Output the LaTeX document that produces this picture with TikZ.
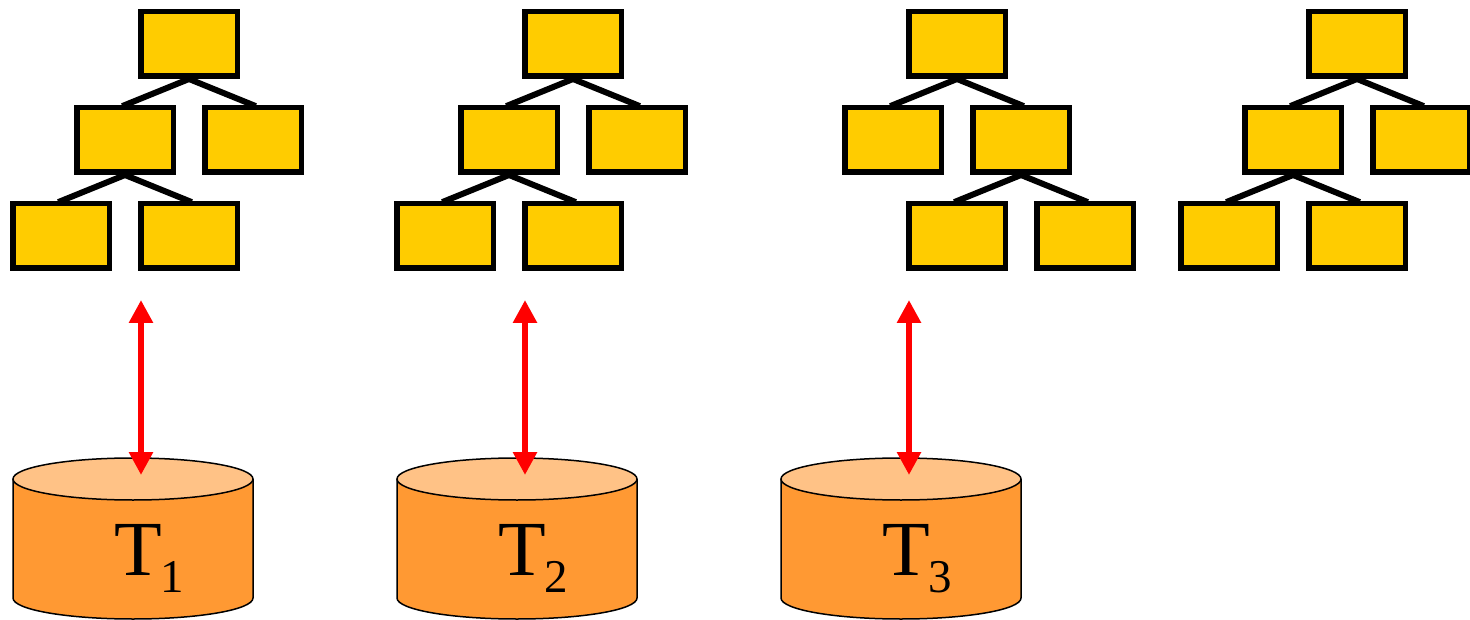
\documentclass[tikz,border=0pt]{standalone}
\usepackage{fontspec}
\setmainfont{Liberation Serif}
\usetikzlibrary{arrows.meta}
\definecolor{boxyellow}{HTML}{FFCC00}
\definecolor{cylbody}{HTML}{FF9933}
\definecolor{cyltop}{HTML}{FFC286}
\pgfdeclarelayer{background}
\pgfsetlayers{background,main}
\newcommand{\dbcyl}[1]{%
  \fill[cylbody] (#1-120,479) -- (#1-120,598) arc[start angle=180,end angle=360,x radius=120pt,y radius=21pt] -- (#1+120,479) -- cycle;
  \draw[cylline] (#1-120,479) -- (#1-120,598) arc[start angle=180,end angle=360,x radius=120pt,y radius=21pt] -- (#1+120,479);
  \draw[cylline, fill=cyltop] (#1,479) ellipse [x radius=120pt, y radius=21pt];
}
\newcommand{\tlabel}[3]{%
  \node[anchor=base west, inner sep=0pt] (#1) at (#2,575) {\fontsize{78}{78}\selectfont T\kern-1pt\raisebox{-17pt}{\fontsize{47}{47}\selectfont #3}};
}
\begin{document}
\begin{tikzpicture}[x=1pt,y=-1pt,
  tbox/.style={draw=black, line width=5.5pt, fill=boxyellow, minimum width=96.5pt, minimum height=64.5pt, inner sep=0pt},
  tedge/.style={line width=6pt, shorten <=-3pt, shorten >=-3pt},
  link/.style={red, line width=6pt, {Triangle[length=23pt,width=23pt]}-{Triangle[length=23pt,width=23pt]}},
  cylline/.style={line width=1.5pt, black}]
\useasboundingbox (0,0) rectangle (1470,620);

% ---- tree 1
\node[tbox] (ar)  at (189,44) {};
\node[tbox] (aml) at (125,140) {};
\node[tbox] (amr) at (253,140) {};
\node[tbox] (abl) at (61,236) {};
\node[tbox] (abr) at (189,236) {};
% ---- tree 2
\node[tbox] (br)  at (573,44) {};
\node[tbox] (bml) at (509,140) {};
\node[tbox] (bmr) at (637,140) {};
\node[tbox] (bbl) at (445,236) {};
\node[tbox] (bbr) at (573,236) {};
% ---- tree 3
\node[tbox] (cr)  at (957,44) {};
\node[tbox] (cml) at (893,140) {};
\node[tbox] (cmr) at (1021,140) {};
\node[tbox] (cbl) at (957,236) {};
\node[tbox] (cbr) at (1085,236) {};
% ---- tree 4
\node[tbox] (dr)  at (1357,44) {};
\node[tbox] (dml) at (1293,140) {};
\node[tbox] (dmr) at (1421,140) {};
\node[tbox] (dbl) at (1229,236) {};
\node[tbox] (dbr) at (1357,236) {};

\begin{pgfonlayer}{background}
\draw[tedge] (ar.south) -- (aml.north);
\draw[tedge] (ar.south) -- (amr.north);
\draw[tedge] (aml.south) -- (abl.north);
\draw[tedge] (aml.south) -- (abr.north);
\draw[tedge] (br.south) -- (bml.north);
\draw[tedge] (br.south) -- (bmr.north);
\draw[tedge] (bml.south) -- (bbl.north);
\draw[tedge] (bml.south) -- (bbr.north);
\draw[tedge] (cr.south) -- (cml.north);
\draw[tedge] (cr.south) -- (cmr.north);
\draw[tedge] (cmr.south) -- (cbl.north);
\draw[tedge] (cmr.south) -- (cbr.north);
\draw[tedge] (dr.south) -- (dml.north);
\draw[tedge] (dr.south) -- (dmr.north);
\draw[tedge] (dml.south) -- (dbl.north);
\draw[tedge] (dml.south) -- (dbr.north);
\end{pgfonlayer}

% ---- cylinders
\dbcyl{133}
\dbcyl{517}
\dbcyl{901}
\tlabel{t1}{114}{1}
\tlabel{t2}{498}{2}
\tlabel{t3}{882}{3}

% ---- arrows
\coordinate (u1) at (141,300); \coordinate (d1) at (141,475);
\coordinate (u2) at (525,300); \coordinate (d2) at (525,475);
\coordinate (u3) at (909,300); \coordinate (d3) at (909,475);
\draw[link] (u1) -- (d1);
\draw[link] (u2) -- (d2);
\draw[link] (u3) -- (d3);
\end{tikzpicture}
\end{document}
